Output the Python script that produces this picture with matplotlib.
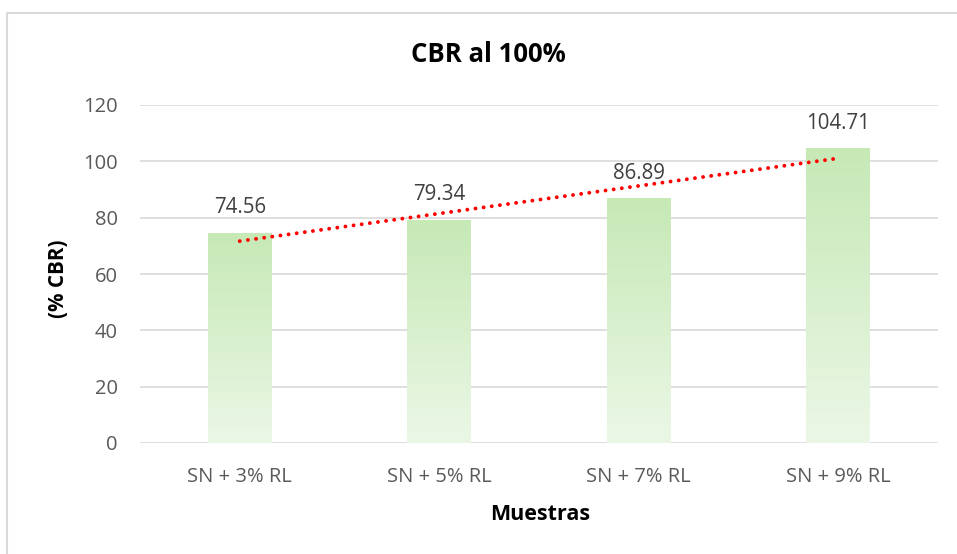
import numpy as np
import matplotlib
matplotlib.use("Agg")
import matplotlib.pyplot as plt
from matplotlib.lines import Line2D
from matplotlib.colors import LinearSegmentedColormap

# --- datos ---
muestras = ["SN + 3% RL", "SN + 5% RL", "SN + 7% RL", "SN + 9% RL"]
cbr = [74.56, 79.34, 86.89, 104.71]
yticks = [0, 20, 40, 60, 80, 100, 120]

plt.rcParams['font.family'] = ['Open Sans', 'DejaVu Sans']

W, H = 957, 554
fig = plt.figure(figsize=(W / 100, H / 100), dpi=100)
ax = fig.add_axes([140 / W, 111 / H, 798 / W, 338 / H])

x = np.arange(len(muestras))
bars = ax.bar(x, cbr, width=0.32, color="none", zorder=2)

# --- gradiente verde dentro de cada barra ---
cmap = LinearSegmentedColormap.from_list("verde", ["#ebf7e6", "#c6e9b6"])
grad = np.linspace(0, 1, 256).reshape(-1, 1)
for b in bars:
    x0, w, h = b.get_x(), b.get_width(), b.get_height()
    im = ax.imshow(grad, cmap=cmap, origin="lower", aspect="auto",
                   extent=[x0, x0 + w, 0, h], zorder=2)
    im.set_clip_path(b)

# --- etiquetas de datos ---
for xi, v in zip(x, cbr):
    ax.annotate(f"{v:.2f}", (xi, v), xytext=(0, 18), textcoords="offset points",
                ha="center", va="center", fontsize=14.8, color="#404040")

# --- linea de tendencia lineal ---
m, c = np.polyfit(x + 1, cbr, 1)
ax.plot(x, m * (x + 1) + c, color="red", linestyle=(0, (0.01, 2.1)),
        linewidth=2.8, dash_capstyle="round", zorder=3)

ax.set_xlim(-0.5, 3.5)
ax.set_ylim(0, 120)
ax.set_yticks(yticks)
ax.set_xticks(x)
ax.set_xticklabels(muestras)
ax.tick_params(axis="both", length=0, labelsize=14.5, colors="#595959")
ax.tick_params(axis="x", pad=17)
ax.tick_params(axis="y", pad=16)
ax.grid(axis="y", color="#d9d9d9", linewidth=1.2, zorder=0)
ax.set_axisbelow(True)
for s in ax.spines.values():
    s.set_visible(False)

# --- titulos ---
fig.text(488 / W, 1 - 55 / H, "CBR al 100%", ha="center", va="center",
         fontsize=18.5, fontweight="bold", color="black")
fig.text(540 / W, 1 - 515 / H, "Muestras", ha="center", va="center",
         fontsize=15.5, fontweight="bold", color="black")
fig.text(58 / W, 1 - 279 / H, "(% CBR)", ha="center", va="center",
         rotation=90, fontsize=14.8, fontweight="bold", color="black")

# --- borde del grafico ---
fig.add_artist(Line2D([7 / W, 7 / W, 1], [0, 1 - 13 / H, 1 - 13 / H],
                      transform=fig.transFigure, color="#d9d9d9", linewidth=1.5))

fig.savefig("out.png", dpi=100)
